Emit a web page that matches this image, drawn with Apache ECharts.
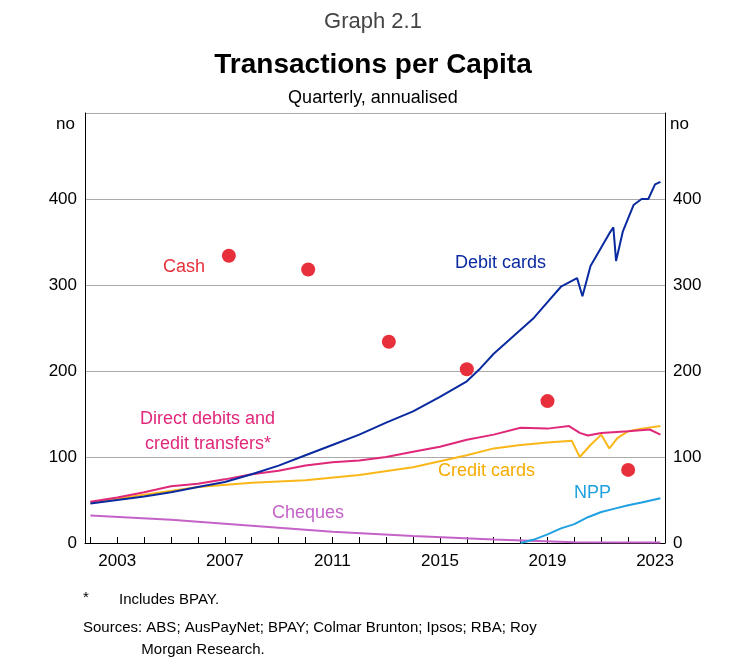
<!DOCTYPE html>
<html lang="en">
<head>
<meta charset="UTF-8">
<title>Transactions per Capita</title>
<script src="https://cdn.jsdelivr.net/npm/echarts@6/dist/echarts.min.js"></script>
<style>body{margin:0}#box{width:746px;height:667px}</style>
</head>
<body>
<div id="box"></div>
<script>
// data (year, transactions per capita)
var debitX = [2002, 2003, 2004, 2005, 2006, 2007, 2008, 2009, 2010, 2011, 2012, 2013, 2014, 2015, 2016, 2016.5, 2017, 2018, 2018.5, 2019, 2019.5, 2020.1, 2020.3, 2020.6, 2021.3, 2021.45, 2021.55, 2021.8, 2022.2, 2022.5, 2022.75, 2023, 2023.2];
var debitY = [46, 50, 54, 59, 65, 71, 80, 90, 102, 114, 126, 140, 153, 170, 188, 203, 220, 248, 262, 280, 298, 308, 287, 322, 360, 367, 328, 362, 393, 400, 400, 417, 420];
var directX = [2002, 2003, 2004, 2005, 2006, 2007, 2008, 2009, 2010, 2011, 2012, 2013, 2014, 2015, 2016, 2017, 2018, 2019, 2019.8, 2020.2, 2020.5, 2021, 2022, 2022.8, 2023.2];
var directY = [48, 53, 59, 66, 69, 74, 80, 84, 90, 94, 96, 100, 106, 112, 120, 126, 134, 133, 136, 128, 125, 128, 130, 132, 126];
var creditX = [2002, 2004, 2006, 2008, 2010, 2012, 2014, 2016, 2017, 2018, 2019, 2019.9, 2020.2, 2020.6, 2021, 2021.3, 2021.6, 2022, 2022.5, 2023.2];
var creditY = [47, 56, 65, 70, 73, 79, 88, 102, 110, 114, 117, 119, 100, 114, 126, 110, 122, 130, 133, 136];
var chequeX = [2002, 2005, 2008, 2011, 2014, 2017, 2020, 2023.2];
var chequeY = [32, 27, 20, 13, 8, 4, 1, 0.5];
var nppX = [2018, 2018.5, 2019, 2019.5, 2020, 2020.5, 2021, 2021.5, 2022, 2022.5, 2023.2];
var nppY = [0, 4, 10, 17, 22, 30, 36, 40, 44, 47, 52];
var cashX = [2007.15, 2010.1, 2013.1, 2016.0, 2019.0, 2022.0];
var cashY = [334, 318, 234, 202, 165, 85];
var yearLabels = [2003, 2007, 2011, 2015, 2019, 2023];
var yearTicks = [];
for (var y = 2002; y <= 2023; y++) yearTicks.push(y);

function zip(xs, ys) { return xs.map(function (x, i) { return [x, ys[i]]; }); }

var font = 'Liberation Sans, Arial, sans-serif';
var yAxisBase = {
    type: 'value', min: 0, max: 500, interval: 100,
    axisLine: {show: true, lineStyle: {color: '#000'}},
    axisTick: {show: false},
    splitLine: {lineStyle: {color: '#aaa'}},
    axisLabel: {fontSize: 17, color: '#000', fontFamily: font,
        formatter: function (v) { return v === 500 ? '' : v; }}
};

var myChart = echarts.init(document.getElementById('box'));
var option = {
    animation: false,
    grid: {left: 85, right: 81, top: 113, bottom: 124},
    title: [
        {text: 'Graph 2.1', left: 'center', top: 6, textStyle: {fontSize: 22, fontWeight: 'normal', color: '#444', fontFamily: font}},
        {text: 'Transactions per Capita', left: 'center', top: 46, textStyle: {fontSize: 28, fontWeight: 'bold', color: '#000', fontFamily: font}},
        {text: 'Quarterly, annualised', left: 'center', top: 84, textStyle: {fontSize: 18, fontWeight: 'normal', color: '#000', fontFamily: font}}
    ],
    xAxis: {
        type: 'value', min: 2001.8, max: 2023.37,
        axisLine: {lineStyle: {color: '#000'}},
        splitLine: {show: false},
        axisTick: {show: true, inside: true, length: 6, lineStyle: {color: '#000'}, customValues: yearTicks},
        axisLabel: {fontSize: 17, color: '#000', fontFamily: font, customValues: yearLabels, margin: 10,
            formatter: function (v) { return String(v); }}
    },
    yAxis: [yAxisBase, Object.assign({}, yAxisBase, {position: 'right', splitLine: {show: false}})],
    graphic: [
        {type: 'text', left: 56, top: 116, style: {text: 'no', fontSize: 17, fontFamily: font, fill: '#000'}},
        {type: 'text', left: 670, top: 116, style: {text: 'no', fontSize: 17, fontFamily: font, fill: '#000'}},
        {type: 'text', left: 163, top: 258, style: {text: 'Cash', fontSize: 18, fontFamily: font, fill: '#e8303c'}},
        {type: 'text', left: 455, top: 254, style: {text: 'Debit cards', fontSize: 18, fontFamily: font, fill: '#0a2aa0'}},
        {type: 'text', left: 140, top: 407, style: {text: 'Direct debits and\n credit transfers*', fontSize: 18, lineHeight: 25, fontFamily: font, fill: '#e0287a'}},
        {type: 'text', left: 438, top: 462, style: {text: 'Credit cards', fontSize: 18, fontFamily: font, fill: '#f5ab00'}},
        {type: 'text', left: 574, top: 484, style: {text: 'NPP', fontSize: 18, fontFamily: font, fill: '#1fa0e0'}},
        {type: 'text', left: 272, top: 504, style: {text: 'Cheques', fontSize: 18, fontFamily: font, fill: '#c462c8'}},
        {type: 'text', left: 83, top: 590, style: {text: '*', fontSize: 15, fontFamily: font, fill: '#000'}},
        {type: 'text', left: 119, top: 592, style: {text: 'Includes BPAY.', fontSize: 15, fontFamily: font, fill: '#000'}},
        {type: 'text', left: 83, top: 617, style: {text: 'Sources: ABS; AusPayNet; BPAY; Colmar Brunton; Ipsos; RBA; Roy\n              Morgan Research.', fontSize: 15, lineHeight: 22, fontFamily: font, fill: '#000'}}
    ],
    series: [
        {name: 'Cheques', type: 'line', showSymbol: false, data: zip(chequeX, chequeY), lineStyle: {color: '#c462c8', width: 2}},
        {name: 'NPP', type: 'line', showSymbol: false, data: zip(nppX, nppY), lineStyle: {color: '#1fa0e0', width: 2}},
        {name: 'Credit cards', type: 'line', showSymbol: false, data: zip(creditX, creditY), lineStyle: {color: '#f9b719', width: 2}},
        {name: 'Direct debits', type: 'line', showSymbol: false, data: zip(directX, directY), lineStyle: {color: '#e0287a', width: 2}},
        {name: 'Debit cards', type: 'line', showSymbol: false, data: zip(debitX, debitY), lineStyle: {color: '#0a2aa0', width: 2}},
        {name: 'Cash', type: 'scatter', symbolSize: 14, data: zip(cashX, cashY), itemStyle: {color: '#e8303c', opacity: 1}}
    ]
};
myChart.setOption(option);
</script>
</body>
</html>
